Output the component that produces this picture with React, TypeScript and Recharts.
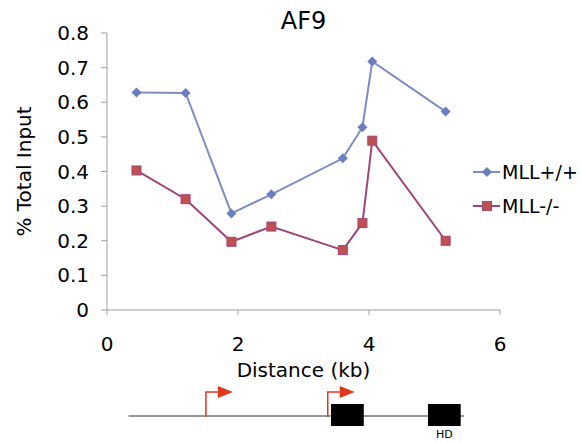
import { LineChart, Line, XAxis, YAxis } from "recharts";

// distance (kb) of each primer pair
const distanceKb = [0.45, 1.2, 1.9, 2.51, 3.6, 3.9, 4.05, 5.17];
const mllWt = [0.628, 0.627, 0.279, 0.334, 0.438, 0.528, 0.718, 0.573];
const mllKo = [0.403, 0.32, 0.197, 0.241, 0.173, 0.251, 0.489, 0.2];

const xTicks = [0, 2, 4, 6];
const yTicks = [0, 0.1, 0.2, 0.3, 0.4, 0.5, 0.6, 0.7, 0.8];

// gene map below the chart (kb)
const geneSpan = [0.33, 5.45];
const tssKb = [1.51, 3.37];
const exonKb = [
  [3.42, 3.92],
  [4.9, 5.4],
];
const exonLabels = ["", "HD"];

const data = distanceKb.map((d, i) => ({ d, wt: mllWt[i], ko: mllKo[i] }));

const BLUE = "#7d8cc4";
const BLUE_DOT = "#6a7fc0";
const PLUM = "#9f4578";
const RED_DOT = "#c0504d";
const AXIS = "#a0a0a0";
const FONT = "'DejaVu Sans', sans-serif";

// plot box
const LEFT = 107;
const RIGHT = 500;
const kbToPx = (kb: number) => LEFT + (kb / 6) * (RIGHT - LEFT);

const Diamond = (props: any) => {
  const { cx, cy, fill } = props;
  if (cx == null || cy == null) return null;
  const r = 5;
  return (
    <path
      d={`M${cx},${cy - r} L${cx + r},${cy} L${cx},${cy + r} L${cx - r},${cy} Z`}
      fill={fill}
    />
  );
};

const Square = (props: any) => {
  const { cx, cy, fill, stroke } = props;
  if (cx == null || cy == null) return null;
  const r = 4.5;
  return (
    <rect
      x={cx - r}
      y={cy - r}
      width={r * 2}
      height={r * 2}
      fill={fill}
      stroke={stroke}
      strokeWidth={1}
    />
  );
};

const legendItems = [
  { label: "MLL+/+", color: BLUE, dot: "d" },
  { label: "MLL-/-", color: PLUM, dot: "s" },
];

export default function App() {
  return (
    <div
      style={{
        position: "absolute",
        left: 0,
        top: 0,
        width: 581,
        height: 443,
        background: "#fff",
        fontFamily: FONT,
      }}
    >
      <div
        style={{
          position: "absolute",
          left: LEFT,
          width: RIGHT - LEFT,
          top: 7,
          textAlign: "center",
          fontSize: 24,
          color: "#000",
        }}
      >
        AF9
      </div>
      <LineChart
        width={581}
        height={443}
        data={data}
        margin={{ top: 33, right: 81, bottom: 0, left: 0 }}
      >
        <XAxis
          type="number"
          dataKey="d"
          domain={[0, 6]}
          ticks={xTicks}
          interval={0}
          stroke={AXIS}
          tickSize={5}
          tickMargin={22}
          height={133}
          tick={{ fill: "#000", fontSize: 20, fontFamily: FONT }}
          label={{
            value: "Distance (kb)",
            position: "insideTop",
            offset: 53,
            style: { fill: "#000", fontSize: 20, fontFamily: FONT },
          }}
        />
        <YAxis
          type="number"
          domain={[0, 0.8]}
          ticks={yTicks}
          interval={0}
          width={107}
          stroke={AXIS}
          tickSize={6}
          tickMargin={12}
          tick={{ fill: "#000", fontSize: 20, fontFamily: FONT }}
          label={{
            value: "% Total Input",
            angle: -90,
            position: "insideLeft",
            offset: 24,
            style: {
              fill: "#000",
              fontSize: 20,
              fontFamily: FONT,
              textAnchor: "middle",
            },
          }}
        />
        <Line
          dataKey="wt"
          name="MLL+/+"
          stroke={BLUE}
          strokeWidth={2}
          dot={<Diamond fill={BLUE_DOT} />}
          isAnimationActive={false}
        />
        <Line
          dataKey="ko"
          name="MLL-/-"
          stroke={PLUM}
          strokeWidth={2}
          dot={<Square fill={RED_DOT} stroke={PLUM} />}
          isAnimationActive={false}
        />
      </LineChart>
      <svg
        width={110}
        height={70}
        style={{ position: "absolute", left: 473, top: 160, overflow: "visible" }}
      >
        {legendItems.map((it, i) => {
          const y = 12 + i * 34;
          return (
            <g key={it.label}>
              <line x1={0} x2={27} y1={y} y2={y} stroke={it.color} strokeWidth={2} />
              {it.dot === "d" ? (
                <Diamond cx={14} cy={y} fill={BLUE_DOT} />
              ) : (
                <Square cx={14} cy={y} fill={RED_DOT} stroke={PLUM} />
              )}
              <text x={29} y={y} dy="0.36em" fontSize={19} fontFamily={FONT} fill="#000">
                {it.label}
              </text>
            </g>
          );
        })}
      </svg>
      <svg
        width={581}
        height={70}
        style={{ position: "absolute", left: 0, top: 380 }}
      >
        <line
          x1={kbToPx(geneSpan[0])}
          x2={kbToPx(geneSpan[1])}
          y1={36}
          y2={36}
          stroke="#333"
          strokeWidth={1}
        />
        {tssKb.map((kb) => {
          const x = kbToPx(kb);
          return (
            <g key={kb}>
              <polyline
                points={`${x},37 ${x},12 ${x + 12},12`}
                fill="none"
                stroke="#e0381c"
                strokeWidth={1.5}
              />
              <polygon
                points={`${x + 12},6 ${x + 27},12 ${x + 12},18`}
                fill="#e0381c"
              />
            </g>
          );
        })}
        {exonKb.map(([a, b], i) => (
          <g key={a}>
            <rect
              x={kbToPx(a)}
              y={24}
              width={kbToPx(b) - kbToPx(a)}
              height={22}
              fill="#000"
            />
            {exonLabels[i] && (
              <text
                x={(kbToPx(a) + kbToPx(b)) / 2}
                y={58}
                textAnchor="middle"
                fontSize={11}
                fontFamily={FONT}
              >
                {exonLabels[i]}
              </text>
            )}
          </g>
        ))}
      </svg>
    </div>
  );
}
